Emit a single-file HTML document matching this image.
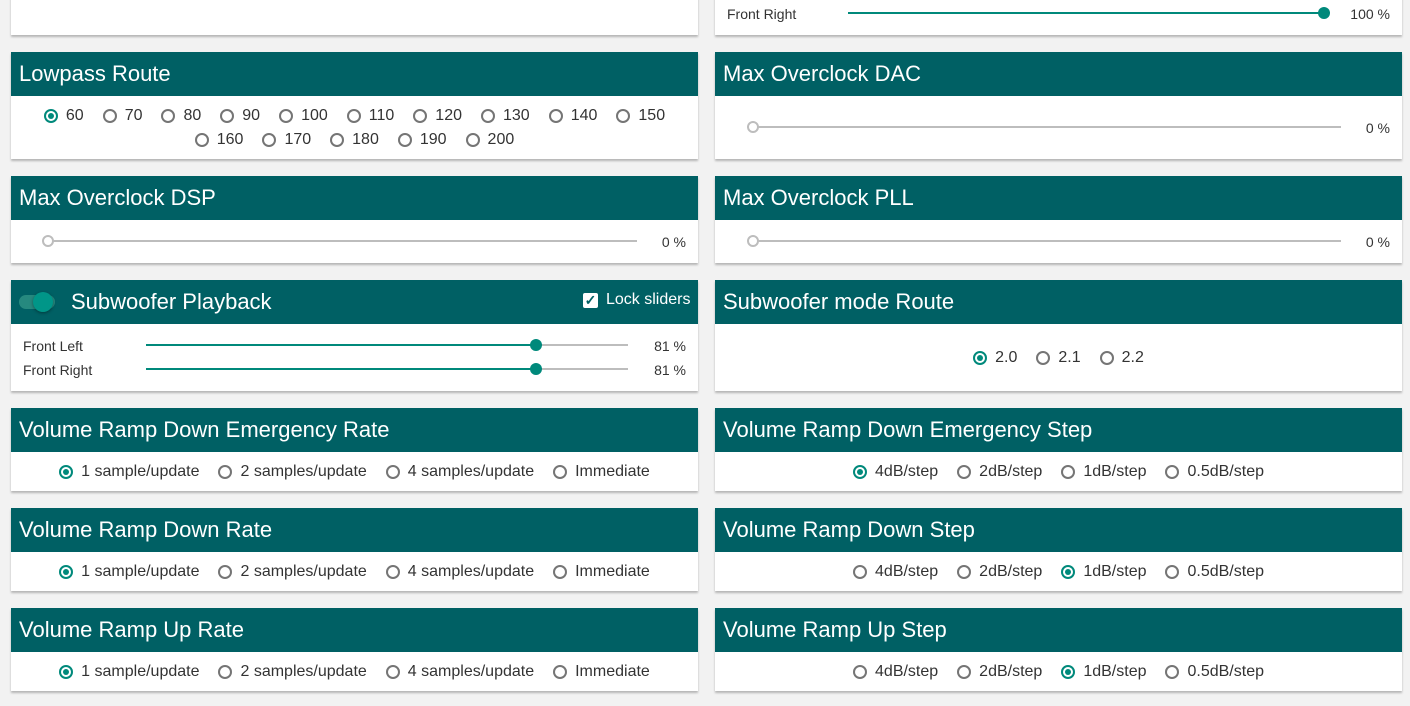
<!DOCTYPE html>
<html><head><meta charset="utf-8">
<style>
*{box-sizing:border-box;margin:0;padding:0}
body{width:1410px;height:706px;background:#f2f2f2;font-family:"Liberation Sans",sans-serif;position:relative;overflow:hidden;color:#333}
.card{position:absolute;background:#fff;box-shadow:0 2px 2px rgba(0,0,0,.25)}
.hdr{height:44px;background:#006064;color:#fff;font-size:22px;line-height:44px;padding-left:8px;position:relative}
.grp{display:flex;flex-wrap:wrap;justify-content:center;column-gap:19px;padding:0 16px}
.opt{display:flex;align-items:center;font-size:16px;height:24px;color:#333}
.rad{width:14px;height:14px;border:2px solid #757575;border-radius:50%;margin-right:8px;position:relative}
.rad.on{border-color:#00897b}
.rad.on::after{content:"";position:absolute;left:2px;top:2px;width:6px;height:6px;border-radius:50%;background:#00897b}
.sl{position:absolute;height:2px;background:#bdbdbd}
.fill{position:absolute;left:0;top:0;height:2px;background:#00897b}
.th{position:absolute;top:-5px;width:12px;height:12px;border-radius:50%;background:#00897b;margin-left:-6px}
.th.off{background:#fff;border:2px solid #bdbdbd}
.lbl{position:absolute;font-size:14px;color:#333}
.val{position:absolute;font-size:14px;color:#333;text-align:right;width:60px}
</style></head><body>

<div class="card" style="left:11px;top:-10px;width:687px;height:45px"></div>
<div class="card" style="left:715px;top:-10px;width:687px;height:45px">
 <div class="lbl" style="left:12px;top:16px">Front Right</div>
 <div class="sl" style="left:133px;top:22px;width:476px"><div class="fill" style="width:100%"></div><div class="th" style="left:100%"></div></div>
 <div class="val" style="left:615px;top:16px">100 %</div>
</div>

<div class="card" style="left:11px;top:52px;width:687px;height:107px">
 <div class="hdr">Lowpass Route</div>
 <div class="grp" style="padding-top:8px">
  <label class="opt"><span class="rad on"></span>60</label>
  <label class="opt"><span class="rad"></span>70</label>
  <label class="opt"><span class="rad"></span>80</label>
  <label class="opt"><span class="rad"></span>90</label>
  <label class="opt"><span class="rad"></span>100</label>
  <label class="opt"><span class="rad"></span>110</label>
  <label class="opt"><span class="rad"></span>120</label>
  <label class="opt"><span class="rad"></span>130</label>
  <label class="opt"><span class="rad"></span>140</label>
  <label class="opt"><span class="rad"></span>150</label>
  <label class="opt"><span class="rad"></span>160</label>
  <label class="opt"><span class="rad"></span>170</label>
  <label class="opt"><span class="rad"></span>180</label>
  <label class="opt"><span class="rad"></span>190</label>
  <label class="opt"><span class="rad"></span>200</label>
 </div>
</div>

<div class="card" style="left:715px;top:52px;width:687px;height:107px">
 <div class="hdr">Max Overclock DAC</div>
 <div class="sl" style="left:38px;top:74px;width:588px"><div class="th off" style="left:0"></div></div>
 <div class="val" style="left:615px;top:68px">0 %</div>
</div>

<div class="card" style="left:11px;top:176px;width:687px;height:87px">
 <div class="hdr">Max Overclock DSP</div>
 <div class="sl" style="left:37px;top:64px;width:589px"><div class="th off" style="left:0"></div></div>
 <div class="val" style="left:615px;top:58px">0 %</div>
</div>

<div class="card" style="left:715px;top:176px;width:687px;height:87px">
 <div class="hdr">Max Overclock PLL</div>
 <div class="sl" style="left:38px;top:64px;width:588px"><div class="th off" style="left:0"></div></div>
 <div class="val" style="left:615px;top:58px">0 %</div>
</div>

<div class="card" style="left:11px;top:280px;width:687px;height:111px">
 <div class="hdr" style="padding-left:60px">Subwoofer Playback
  <div style="position:absolute;left:8px;top:15px;width:36px;height:14px;border-radius:7px;background:#26897f">
   <div style="position:absolute;left:14px;top:-3px;width:20px;height:20px;border-radius:50%;background:#009688;box-shadow:0 1px 3px rgba(0,0,0,.4)"></div>
  </div>
  <div style="position:absolute;left:572px;top:0;font-size:16px;display:flex;align-items:center;height:40px">
   <span style="display:inline-block;width:15px;height:15px;background:#fff;border-radius:2px;color:#006064;font-size:14px;line-height:15px;text-align:center;font-weight:bold;margin-right:8px">✓</span>Lock sliders
  </div>
 </div>
 <div class="lbl" style="left:12px;top:58px">Front Left</div>
 <div class="sl" style="left:135px;top:64px;width:482px"><div class="fill" style="width:81%"></div><div class="th" style="left:81%"></div></div>
 <div class="val" style="left:615px;top:58px">81 %</div>
 <div class="lbl" style="left:12px;top:82px">Front Right</div>
 <div class="sl" style="left:135px;top:88px;width:482px"><div class="fill" style="width:81%"></div><div class="th" style="left:81%"></div></div>
 <div class="val" style="left:615px;top:82px">81 %</div>
</div>

<div class="card" style="left:715px;top:280px;width:687px;height:111px">
 <div class="hdr">Subwoofer mode Route</div>
 <div class="grp" style="padding-top:22px">
  <label class="opt"><span class="rad on"></span>2.0</label>
  <label class="opt"><span class="rad"></span>2.1</label>
  <label class="opt"><span class="rad"></span>2.2</label>
 </div>
</div>

<!-- rate cards -->
<div class="card" style="left:11px;top:408px;width:687px;height:83px">
 <div class="hdr">Volume Ramp Down Emergency Rate</div>
 <div class="grp" style="padding-top:8px">
  <label class="opt"><span class="rad on"></span>1 sample/update</label>
  <label class="opt"><span class="rad"></span>2 samples/update</label>
  <label class="opt"><span class="rad"></span>4 samples/update</label>
  <label class="opt"><span class="rad"></span>Immediate</label>
 </div>
</div>
<div class="card" style="left:715px;top:408px;width:687px;height:83px">
 <div class="hdr">Volume Ramp Down Emergency Step</div>
 <div class="grp" style="padding-top:8px">
  <label class="opt"><span class="rad on"></span>4dB/step</label>
  <label class="opt"><span class="rad"></span>2dB/step</label>
  <label class="opt"><span class="rad"></span>1dB/step</label>
  <label class="opt"><span class="rad"></span>0.5dB/step</label>
 </div>
</div>

<div class="card" style="left:11px;top:508px;width:687px;height:83px">
 <div class="hdr">Volume Ramp Down Rate</div>
 <div class="grp" style="padding-top:8px">
  <label class="opt"><span class="rad on"></span>1 sample/update</label>
  <label class="opt"><span class="rad"></span>2 samples/update</label>
  <label class="opt"><span class="rad"></span>4 samples/update</label>
  <label class="opt"><span class="rad"></span>Immediate</label>
 </div>
</div>
<div class="card" style="left:715px;top:508px;width:687px;height:83px">
 <div class="hdr">Volume Ramp Down Step</div>
 <div class="grp" style="padding-top:8px">
  <label class="opt"><span class="rad"></span>4dB/step</label>
  <label class="opt"><span class="rad"></span>2dB/step</label>
  <label class="opt"><span class="rad on"></span>1dB/step</label>
  <label class="opt"><span class="rad"></span>0.5dB/step</label>
 </div>
</div>

<div class="card" style="left:11px;top:608px;width:687px;height:83px">
 <div class="hdr">Volume Ramp Up Rate</div>
 <div class="grp" style="padding-top:8px">
  <label class="opt"><span class="rad on"></span>1 sample/update</label>
  <label class="opt"><span class="rad"></span>2 samples/update</label>
  <label class="opt"><span class="rad"></span>4 samples/update</label>
  <label class="opt"><span class="rad"></span>Immediate</label>
 </div>
</div>
<div class="card" style="left:715px;top:608px;width:687px;height:83px">
 <div class="hdr">Volume Ramp Up Step</div>
 <div class="grp" style="padding-top:8px">
  <label class="opt"><span class="rad"></span>4dB/step</label>
  <label class="opt"><span class="rad"></span>2dB/step</label>
  <label class="opt"><span class="rad on"></span>1dB/step</label>
  <label class="opt"><span class="rad"></span>0.5dB/step</label>
 </div>
</div>

</body></html>
